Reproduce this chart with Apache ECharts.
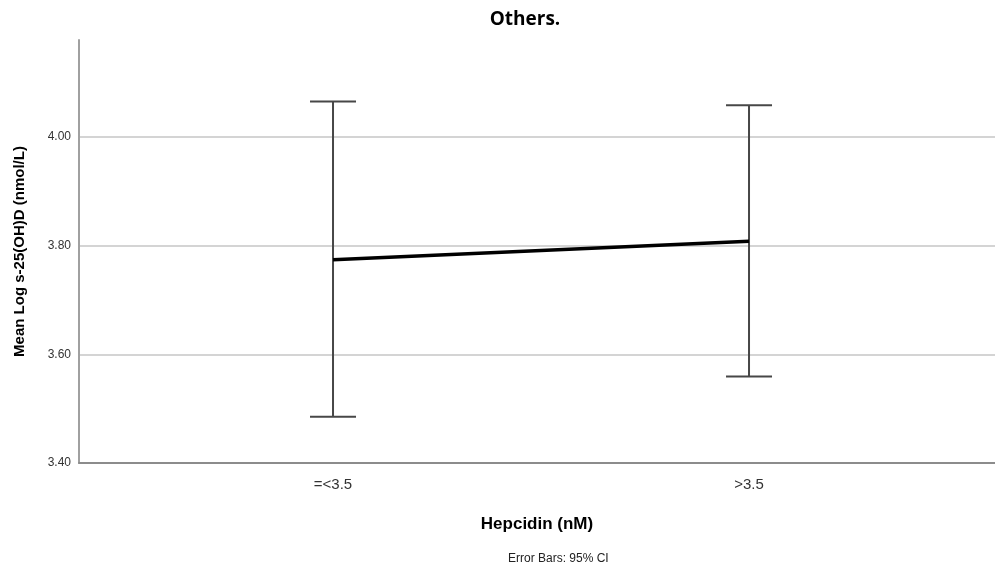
<!DOCTYPE html>
<html>
<head>
<meta charset="utf-8">
<script src="https://cdn.jsdelivr.net/npm/echarts@6/dist/echarts.min.js"></script>
<style>html,body{margin:0;padding:0;background:#fff;}#c{width:995px;height:569px;}</style>
</head>
<body>
<div id="c"></div>
<script>
var categories = ['=<3.5', '>3.5'];
var means = [3.774, 3.808];
var upper = [4.065, 4.058];
var lower = [3.485, 3.559];
var yTicks = [3.40, 3.60, 3.80, 4.00];

var chart = echarts.init(document.getElementById('c'), null, {renderer: 'canvas'});
var meanData = means.map(function (m, i) { return [i, m]; });
var errData = categories.map(function (c, i) { return [i, lower[i], upper[i]]; });

chart.setOption({
  animation: false,
  backgroundColor: '#ffffff',
  title: {
    text: 'Others.',
    left: 520, top: 5, textAlign: 'center',
    textStyle: {fontFamily: 'Open Sans', fontWeight: 'bold', fontSize: 19, color: '#000'}
  },
  grid: {left: 79, right: 0, top: 40, bottom: 106, containLabel: false},
  xAxis: {
    type: 'value',
    min: -0.6106, max: 1.5913,
    name: 'Hepcidin (nM)',
    nameLocation: 'middle', nameGap: 53,
    nameTextStyle: {fontFamily: 'Liberation Sans', fontWeight: 'bold', fontSize: 17, color: '#000'},
    axisLine: {show: true, onZero: false, lineStyle: {color: '#8c8c8c', width: 2}},
    axisTick: {show: false},
    splitLine: {show: false},
    axisLabel: {
      customValues: [0, 1],
      margin: 14,
      fontFamily: 'Liberation Sans', fontSize: 15, color: '#333',
      formatter: function (v) { return categories[Math.round(v)]; }
    }
  },
  yAxis: {
    type: 'value',
    min: 3.4, max: 4.178, interval: 0.2,
    name: 'Mean Log s-25(OH)D (nmol/L)',
    nameLocation: 'middle', nameGap: 52, nameRotate: 90,
    nameTextStyle: {fontFamily: 'Liberation Sans', fontWeight: 'bold', fontSize: 15, color: '#000'},
    axisLine: {show: true, onZero: false, lineStyle: {color: '#a0a0a0', width: 2}},
    axisTick: {show: false, customValues: yTicks},
    splitLine: {show: true, lineStyle: {color: '#d4d4d4', width: 2}},
    axisLabel: {
      customValues: yTicks,
      margin: 8, fontFamily: 'Liberation Sans', fontSize: 12, color: '#333',
      formatter: function (v) { return v.toFixed(2); }
    }
  },
  series: [
    {
      type: 'custom',
      data: errData,
      z: 3,
      renderItem: function (params, api) {
        var x = api.value(0);
        var lo = api.coord([x, api.value(1)]);
        var hi = api.coord([x, api.value(2)]);
        var hw = 23;
        var st = {stroke: '#474747', lineWidth: 2};
        return {
          type: 'group',
          children: [
            {type: 'line', shape: {x1: lo[0], y1: lo[1], x2: hi[0], y2: hi[1]}, style: st},
            {type: 'line', shape: {x1: hi[0] - hw, y1: hi[1], x2: hi[0] + hw, y2: hi[1]}, style: st},
            {type: 'line', shape: {x1: lo[0] - hw, y1: lo[1], x2: lo[0] + hw, y2: lo[1]}, style: st}
          ]
        };
      }
    },
    {
      type: 'line',
      data: meanData,
      z: 4,
      symbol: 'none',
      lineStyle: {color: '#000', width: 3.5}
    }
  ],
  graphic: [{
    type: 'text', left: 508, top: 553,
    style: {text: 'Error Bars: 95% CI', font: '12px "Liberation Sans"', fill: '#222', textAlign: 'center'}
  }]
});
</script>
</body>
</html>
